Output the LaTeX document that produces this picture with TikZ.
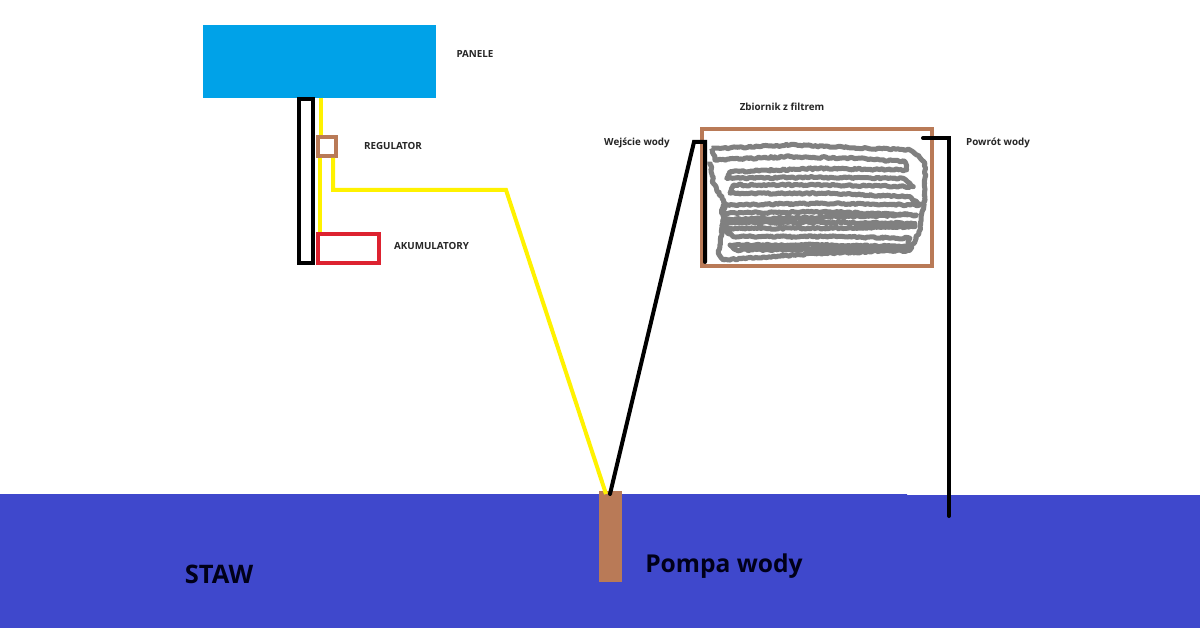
\documentclass[tikz,border=0pt]{standalone}
\usepackage{fontspec}
\setmainfont{Open Sans}
\usetikzlibrary{decorations.pathmorphing}
\definecolor{wodacolor}{HTML}{3F48CC}
\definecolor{panelcolor}{HTML}{00A2E8}
\definecolor{brazcolor}{HTML}{B97A57}
\definecolor{kabelcolor}{HTML}{FFF200}
\definecolor{akucolor}{HTML}{DD2230}
\definecolor{filtrcolor}{HTML}{808080}
\tikzset{
  opis/.style={font=\bfseries\fontsize{9.8}{12}\selectfont, text=black!85},
  duzyopis/.style={font=\bfseries\fontsize{24.6}{30}\selectfont, text=black!90!blue},
  kabel/.style={draw=kabelcolor, line width=4pt},
  rura/.style={draw=black, line width=4pt},
  skrzynka/.style={draw, line width=4pt, inner sep=0pt, fill=white},
  filtr/.style={filtrcolor, line width=5pt, line join=round, decorate, decoration={random steps,segment length=2pt,amplitude=0.9pt}},
}
\begin{document}
\begin{tikzpicture}[x=1pt,y=-1pt]
  \useasboundingbox (0,0) rectangle (1200,628);
  \fill[white] (0,0) rectangle (1200,628);
  \fill[wodacolor] (0,494)--(907,494)--(907,495)--(1200,495)--(1200,628)--(0,628)--cycle; % staw

  \node[fill=panelcolor, minimum width=233pt, minimum height=73pt, inner sep=0pt] (panele) at (319.5,61.5) {};
  \node[skrzynka, draw=black, minimum width=14pt, minimum height=164pt] (rama) at (306,181) {};
  \node[skrzynka, draw=brazcolor, minimum width=18pt, minimum height=19pt] (regulator) at (327,146.5) {};
  \node[skrzynka, draw=akucolor, line width=3.6pt, minimum width=61.5pt, minimum height=29.5pt] (aku) at (348.5,248.5) {};
  \node[skrzynka, draw=brazcolor, minimum width=230pt, minimum height=137pt] (zbiornik) at (817,197.5) {};
  \node[fill=brazcolor, minimum width=23pt, minimum height=91pt, inner sep=0pt] (pompa) at (610.5,536.5) {};

  \coordinate (panelwyj) at (321,98);
  \coordinate (reggora) at (321,135);
  \coordinate (regdol) at (320,158);
  \coordinate (akugora) at (320,232);
  \coordinate (regwyj) at (333,158);
  \coordinate (kolano) at (333,190);
  \coordinate (kolano2) at (506,190);
  \coordinate (pompazol) at (606,494);
  \coordinate (pompacz) at (610,494);
  \coordinate (wej1) at (694,142);
  \coordinate (wej2) at (705,142);
  \coordinate (wej3) at (705,262);
  \coordinate (pow1) at (923,138);
  \coordinate (pow2) at (949,138);
  \coordinate (pow3) at (949,516);

  \draw[kabel] (panelwyj)--(reggora);
  \draw[kabel] (regdol)--(akugora);
  \draw[kabel] (regwyj)--(kolano)--(kolano2)--(pompazol);

  % filtr
  \begin{scope}[shift={(590,90)},x=0.3333pt,y=-0.3333pt]
    \pgfmathsetseed{7}
    \draw[filtr]
      plot coordinates {(365,175) (375,210) (600,200) (800,205) (945,215) (950,240) (700,235) (420,245) (410,265) (650,262) (940,265) (970,290) (700,285) (430,285) (420,310) (700,310) (960,320) (990,345) (700,340) (400,345) (395,370) (700,365) (980,375) (700,382) (400,388) (400,398) (700,397) (975,400) (975,410) (700,415) (395,415) (430,440) (700,440) (960,445) (950,470) (700,465) (420,465) (440,480) (700,478) (950,482)};
    \draw[filtr]
      plot coordinates {(365,175) (390,175) (600,165) (960,180) (985,195) (1005,220) (1005,320) (990,420) (960,480) (700,490) (400,510) (385,490) (395,420) (405,340) (370,280) (360,215)};
  \end{scope}

  \draw[rura, line cap=round] (pompacz)--(wej1)--(wej2)--(wej3);
  \draw[rura, line cap=round] (pow1)--(pow2)--(pow3);

  \node[opis] (lpanele) at (475,54) {PANELE};
  \node[opis] (lregulator) at (393,146) {REGULATOR};
  \node[opis] (laku) at (431.5,246) {AKUMULATORY};
  \node[opis] (lzbiornik) at (782,106.5) {Zbiornik z filtrem};
  \node[opis] (lwej) at (637,143) {Wejście wody};
  \node[opis] (lpow) at (998,143) {Powrót wody};
  \node[duzyopis, font=\bfseries\fontsize{25.5}{30}\selectfont] (lstaw) at (219,574) {STAW};
  \node[duzyopis] (lpompa) at (724,566) {Pompa wody};
\end{tikzpicture}
\end{document}
